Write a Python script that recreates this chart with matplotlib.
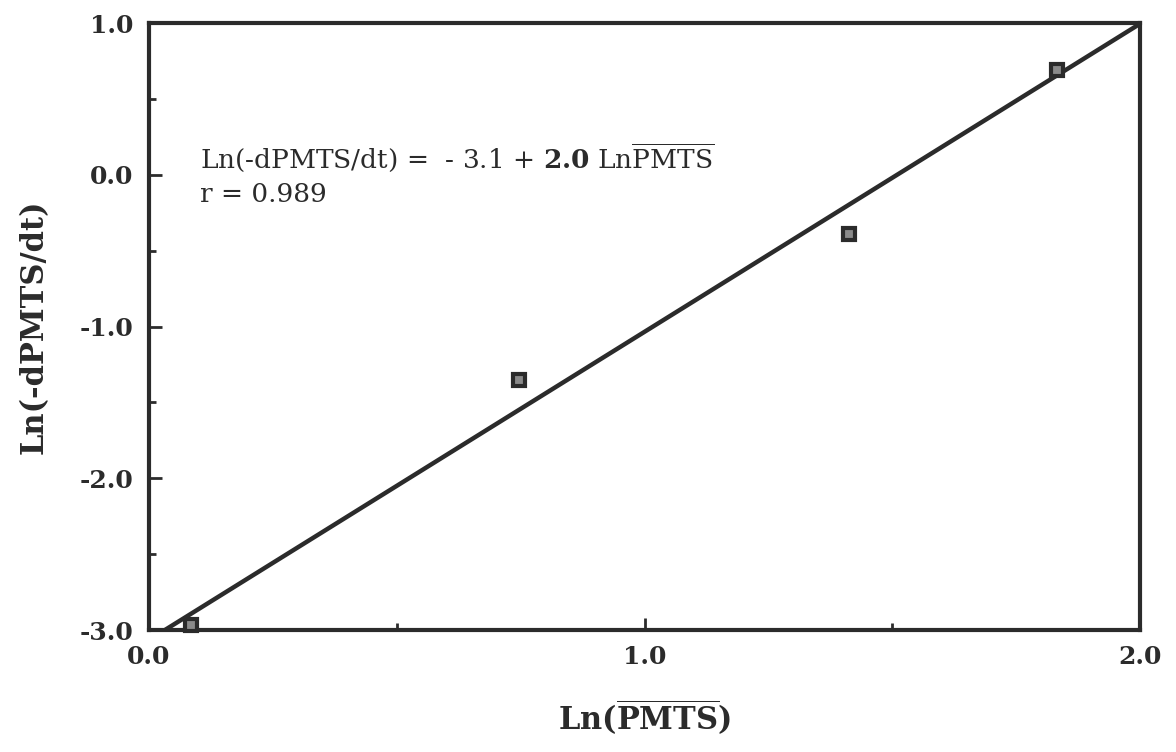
import matplotlib
matplotlib.use("Agg")
import matplotlib.pyplot as plt
import numpy as np

# data
ln_p = [0.085, 0.747, 1.413, 1.833]
ln_rate = [-2.97, -1.355, -0.39, 0.69]

# fitted line as drawn
fit_intercept = -3.065
fit_slope = 2.03
fit_x = [0.0, 2.0]

plt.rcParams['font.family'] = ['DejaVu Serif']
plt.rcParams['mathtext.fontset'] = 'custom'
plt.rcParams['mathtext.rm'] = 'DejaVu Serif'
plt.rcParams['mathtext.bf'] = 'DejaVu Serif:bold'
plt.rcParams['mathtext.it'] = 'DejaVu Serif:italic'

ink = '#2b2b2b'

fig = plt.figure(figsize=(11.76, 7.52), dpi=100)
ax = fig.add_axes([0.1267, 0.1622, 0.8427, 0.8072])

xs = np.array(fit_x)
ax.plot(xs, fit_intercept + fit_slope * xs, color=ink, lw=3.2, solid_capstyle='butt', clip_on=True)
ax.plot(ln_p, ln_rate, linestyle='none', marker='s', markersize=9,
        markerfacecolor='#8a8a8a', markeredgecolor=ink, markeredgewidth=3, clip_on=False, zorder=3)

ax.set_xlim(0, 2)
ax.set_ylim(-3, 1)
ax.set_xticks([0, 1, 2])
ax.set_xticklabels(['0.0', '1.0', '2.0'])
ax.set_xticks([0.5, 1.5], minor=True)
ax.set_yticks([-3, -2, -1, 0, 1])
ax.set_yticklabels(['-3.0', '-2.0', '-1.0', '0.0', '1.0'])
ax.set_yticks([-2.5, -1.5, -0.5, 0.5], minor=True)

for s in ax.spines.values():
    s.set_linewidth(3)
    s.set_color(ink)

ax.tick_params(axis='both', which='major', direction='in', length=9, width=2, color=ink,
               labelsize=18, pad=11)
ax.tick_params(axis='both', which='minor', direction='in', length=5, width=2, color=ink)
for lab in ax.get_xticklabels() + ax.get_yticklabels():
    lab.set_fontweight('bold')
    lab.set_color(ink)

ax.set_xlabel(r'Ln($\overline{\mathbf{PMTS}}$)', fontsize=22, fontweight='bold', color=ink, labelpad=20)
ax.set_ylabel('Ln(-dPMTS/dt)', fontsize=22, fontweight='bold', color=ink, labelpad=22)

ax.text(0.103, 0.11, r'Ln(-dPMTS/dt) =  - 3.1 + $\mathbf{2.0}$ Ln$\overline{\mathrm{PMTS}}$',
        fontsize=19, color=ink, va='center', ha='left')
ax.text(0.103, -0.13, 'r = 0.989', fontsize=19, color=ink, va='center', ha='left')

fig.savefig('out.png', dpi=100, facecolor='white')
